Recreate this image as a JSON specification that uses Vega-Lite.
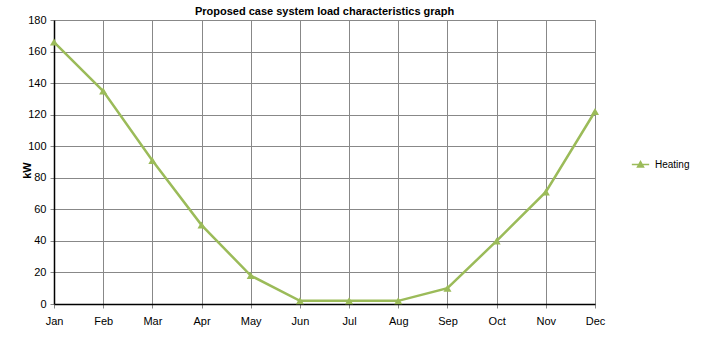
{
  "$schema": "https://vega.github.io/schema/vega-lite/v6.json",
  "width": 541,
  "height": 284,
  "autosize": {"type": "none"},
  "padding": {"left": 54, "top": 20, "right": 109, "bottom": 35},
  "background": "white",
  "title": {
    "text": "Proposed case system load characteristics graph",
    "font": "Liberation Sans",
    "fontSize": 11,
    "fontWeight": "bold",
    "color": "#000000",
    "anchor": "middle",
    "offset": -3
  },
  "config": {
    "view": {"stroke": "#888888", "strokeWidth": 1},
    "axis": {
      "labelFont": "Liberation Sans",
      "labelFontSize": 11,
      "labelColor": "#000000",
      "titleFont": "Liberation Sans",
      "gridColor": "#888888",
      "gridOpacity": 1,
      "gridWidth": 1,
      "tickColor": "#888888",
      "tickSize": 4
    }
  },
  "data": {
    "values": [
      {"month": "Jan", "load": 166, "series": "Heating"},
      {"month": "Feb", "load": 135, "series": "Heating"},
      {"month": "Mar", "load": 91, "series": "Heating"},
      {"month": "Apr", "load": 50, "series": "Heating"},
      {"month": "May", "load": 18, "series": "Heating"},
      {"month": "Jun", "load": 2, "series": "Heating"},
      {"month": "Jul", "load": 2, "series": "Heating"},
      {"month": "Aug", "load": 2, "series": "Heating"},
      {"month": "Sep", "load": 10, "series": "Heating"},
      {"month": "Oct", "load": 40, "series": "Heating"},
      {"month": "Nov", "load": 71, "series": "Heating"},
      {"month": "Dec", "load": 122, "series": "Heating"}
    ]
  },
  "encoding": {
    "x": {
      "field": "month",
      "type": "ordinal",
      "sort": null,
      "scale": {"type": "point", "padding": 0},
      "axis": {
        "title": null,
        "labelAngle": 0,
        "labelPadding": 7,
        "grid": true,
        "domainColor": "#000000",
        "domainWidth": 1.5
      }
    },
    "y": {
      "field": "load",
      "type": "quantitative",
      "scale": {"domain": [0, 180], "nice": false},
      "axis": {
        "title": "kW",
        "titleFontSize": 11,
        "titleFontWeight": "bold",
        "titleColor": "#000000",
        "titleX": -22,
        "titleY": 150,
        "titleAlign": "center",
        "values": [0, 20, 40, 60, 80, 100, 120, 140, 160, 180],
        "labelPadding": 4,
        "grid": true,
        "domainColor": "#000000",
        "domainWidth": 1.5
      }
    },
    "color": {
      "field": "series",
      "type": "nominal",
      "scale": {"range": ["#9BBB59"]},
      "legend": {
        "title": null,
        "orient": "none",
        "legendX": 577,
        "legendY": 135,
        "symbolType": "M-1,0H1M-0.35,0.3L0,-0.35L0.35,0.3Z",
        "symbolSize": 300,
        "symbolStrokeWidth": 1.5,
        "symbolFillColor": "#9BBB59",
        "labelFont": "Liberation Sans",
        "labelFontSize": 10,
        "labelColor": "#000000",
        "labelOffset": 5
      }
    }
  },
  "layer": [
    {"mark": {"type": "line", "strokeWidth": 2.5}},
    {"mark": {"type": "point", "shape": "triangle-up", "filled": true, "size": 65, "opacity": 1}}
  ]
}
